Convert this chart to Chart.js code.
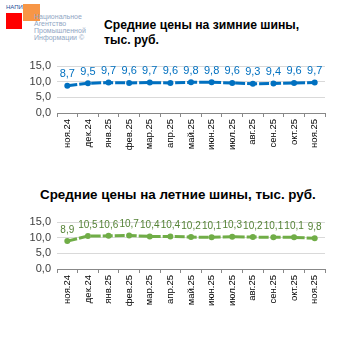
<!DOCTYPE html>
<html lang="ru">
<head>
<meta charset="UTF-8">
<title>Средние цены на шины</title>
<style>
    body { margin: 0; width: 353px; height: 353px; background: #fff; position: relative; overflow: hidden; font-family: "Liberation Sans", Arial, sans-serif; }
    .title { position: absolute; font-weight: bold; color: #000; line-height: 15px; white-space: nowrap; }
    .box { position: absolute; left: 0; width: 353px; height: 115px; }
</style>
</head>
<body>

<!-- логотип -->
<div style="position:absolute;left:6px;top:4px;font-size:6px;color:#1f4e99;">НАПИ</div>
<div style="position:absolute;left:23px;top:4px;width:17px;height:17px;background:#f79646;"></div>
<div style="position:absolute;left:6px;top:13px;width:16px;height:16px;background:#ff0000;"></div>
<div style="position:absolute;left:34px;top:13px;font-size:7px;line-height:7px;color:#8fa6c4;">Национальное<br>Агентство<br>Промышленной<br>Информации ©</div>

<div class="title" style="left:104px;top:18px;font-size:12.2px;">Средние цены на зимние шины,<br>тыс. руб.</div>
<div class="box" style="top:50px;"><canvas id="winterChart"></canvas></div>

<div class="title" style="left:40px;top:187px;font-size:13.4px;">Средние цены на летние шины, тыс. руб.</div>
<div class="box" style="top:206px;"><canvas id="summerChart"></canvas></div>

<script src="https://cdn.jsdelivr.net/npm/chart.js"></script>
<script>
    const v_months = ['ноя.24', 'дек.24', 'янв.25', 'фев.25', 'мар.25', 'апр.25', 'май.25',
        'июн.25', 'июл.25', 'авг.25', 'сен.25', 'окт.25', 'ноя.25'];
    const v_winter = [8.7, 9.5, 9.7, 9.6, 9.7, 9.6, 9.8, 9.8, 9.6, 9.3, 9.4, 9.6, 9.7];
    const v_summer = [8.9, 10.5, 10.6, 10.7, 10.4, 10.4, 10.2, 10.1, 10.3, 10.2, 10.1, 10.1, 9.8];
    const v_yTicks = [0, 5, 10, 15];

    function f_comma(v) {
        return v.toFixed(1).replace('.', ',');
    }

    // подписи значений над точками
    const p_labels = {
        id: 'pointLabels',
        afterDatasetsDraw(chart) {
            const c = chart.ctx;
            const ds = chart.data.datasets[0];
            const meta = chart.getDatasetMeta(0);
            c.save();
            c.font = ds.labelFont;
            c.fillStyle = ds.labelColor;
            c.textAlign = 'center';
            c.textBaseline = 'bottom';
            meta.data.forEach((pt, i) => {
                c.fillText(f_comma(ds.data[i]), pt.x, pt.y - 6);
            });
            c.restore();
        }
    };

    function f_make(id, data, color, labelColor, labelFont) {
        new Chart(document.getElementById(id), {
            type: 'line',
            data: {
                labels: v_months,
                datasets: [{
                    data: data,
                    borderColor: color,
                    backgroundColor: color,
                    borderWidth: 3,
                    borderDash: [10, 2],
                    pointRadius: 3,
                    pointBorderWidth: 0,
                    pointBackgroundColor: color,
                    tension: 0,
                    labelColor: labelColor,
                    labelFont: labelFont
                }]
            },
            options: {
                responsive: true,
                maintainAspectRatio: false,
                animation: false,
                layout: { padding: { top: 16, right: 28, left: 0, bottom: 0 } },
                plugins: { legend: { display: false }, tooltip: { enabled: false } },
                scales: {
                    x: {
                        offset: true,
                        afterFit: (s) => { s.height = 52; },
                        grid: { offset: true, drawOnChartArea: false, tickLength: 4, color: '#888888' },
                        border: { color: '#888888', width: 1 },
                        ticks: {
                            maxRotation: 90, minRotation: 90, autoSkip: false,
                            color: '#000', padding: 2,
                            font: { size: 9.5, family: '"Liberation Sans", Arial, sans-serif' }
                        }
                    },
                    y: {
                        min: 0, max: 15,
                        afterFit: (s) => { s.width = 57; },
                        afterBuildTicks: (s) => { s.ticks = v_yTicks.map(v => ({ value: v })); },
                        grid: { color: '#d9d9d9', drawTicks: false },
                        border: { display: false },
                        ticks: {
                            autoSkip: false,
                            color: '#404040', padding: 6,
                            font: { size: 11, family: '"Liberation Sans", Arial, sans-serif' },
                            callback: (v) => f_comma(v)
                        }
                    }
                }
            },
            plugins: [p_labels]
        });
    }

    f_make('winterChart', v_winter, '#0070c0', '#0070c0', '11px "Liberation Sans", Arial, sans-serif');
    f_make('summerChart', v_summer, '#70ad47', '#548235', '10px "Liberation Sans Narrow", "Liberation Sans", Arial, sans-serif');
</script>
</body>
</html>
